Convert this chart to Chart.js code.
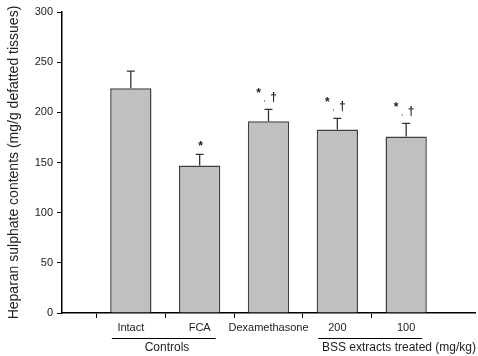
<!DOCTYPE html>
<html>
<head>
<meta charset="utf-8">
<script src="https://cdn.jsdelivr.net/npm/chart.js@4"></script>
<style>
  body { margin: 0; background: #fff; }
  #wrap { width: 478px; height: 356px; }
</style>
</head>
<body>
<div id="wrap"><canvas id="hsChart" width="478" height="356"></canvas></div>
<script>
// data
const labels = ['', 'Intact', 'FCA', 'Dexamethasone', '200', '100', ''];
const values = [null, 224, 147, 191, 183, 176, null];
const errors = [0, 17, 11, 12, 11, 13, 0];
const marks = ['', '', '*', '*,†', '*,†', '*,†', ''];
const yTicks = [0, 50, 100, 150, 200, 250, 300];
const groups = [
    { name: 'Controls', from: 1, to: 2 },
    { name: 'BSS extracts treated (mg/kg)', from: 4, to: 5 }
];

const font = "'Liberation Sans', Arial, sans-serif";

// error bars + significance marks + group captions
const extras = {
    id: 'extras',
    afterDatasetsDraw(chart) {
        const ctx = chart.ctx;
        const x = chart.scales.x, y = chart.scales.y;
        ctx.save();
        ctx.strokeStyle = '#333';
        ctx.fillStyle = '#222';
        ctx.lineWidth = 1.3;
        for (let i = 0; i < values.length; i++) {
            if (values[i] == null) continue;
            let cx = x.getPixelForValue(i);
            let top = y.getPixelForValue(values[i]);
            let end = y.getPixelForValue(values[i] + errors[i]);
            ctx.beginPath();
            ctx.moveTo(cx, top);
            ctx.lineTo(cx, end);
            ctx.moveTo(cx - 4, end);
            ctx.lineTo(cx + 4, end);
            ctx.stroke();

            let m = marks[i];
            if (!m) continue;
            ctx.textAlign = 'center';
            ctx.textBaseline = 'middle';
            if (m === '*') {
                ctx.font = 'bold 12px ' + font;
                ctx.fillText('*', cx + 1, end - 8);
            } else {
                ctx.font = 'bold 12px ' + font;
                ctx.fillText('*', cx - 10, end - 16);
                ctx.font = '8px ' + font;
                ctx.fillText(',', cx - 4, end - 11);
                ctx.font = 'bold 12px ' + font;
                ctx.fillText('†', cx + 5, end - 12);
            }
        }

        ctx.font = '12px ' + font;
        ctx.textAlign = 'center';
        ctx.textBaseline = 'middle';
        ctx.lineWidth = 1;
        ctx.strokeStyle = '#000';
        for (let g of groups) {
            let x1 = x.getPixelForValue(g.from) - 19;
            let x2 = x.getPixelForValue(g.to) + 16;
            ctx.beginPath();
            ctx.moveTo(x1, 338.5);
            ctx.lineTo(x2, 338.5);
            ctx.stroke();
        }
        ctx.fillText(groups[0].name, 167, 348);
        ctx.textAlign = 'right';
        ctx.fillText(groups[1].name, 476, 348);
        ctx.restore();
    }
};

const hsChart = new Chart(document.getElementById('hsChart'), {
    type: 'bar',
    data: {
        labels: labels,
        datasets: [{
            data: values,
            backgroundColor: '#c0c0c0',
            borderColor: '#404040',
            borderWidth: 1.5,
            barPercentage: 0.6,
            categoryPercentage: 1
        }]
    },
    options: {
        responsive: false,
        animation: false,
        layout: { padding: { top: 12, right: 2, left: 0, bottom: 0 } },
        plugins: { legend: { display: false }, tooltip: { enabled: false } },
        scales: {
            x: {
                offset: false,
                grid: {
                    drawOnChartArea: false,
                    tickLength: 5,
                    tickColor: (c) => (c.index === 0 || c.index === 6) ? 'rgba(0,0,0,0)' : '#000'
                },
                border: { color: '#000', width: 1.5 },
                ticks: {
                    autoSkip: false,
                    maxRotation: 0,
                    padding: 3,
                    color: '#222',
                    font: { family: font, size: 11 }
                },
                afterFit: (s) => { s.height = 43; }
            },
            y: {
                min: 0,
                max: 300,
                afterBuildTicks: (s) => { s.ticks = yTicks.map(v => ({ value: v })); },
                grid: { drawOnChartArea: false, tickLength: 5, tickColor: '#000' },
                border: { color: '#000', width: 1.5 },
                ticks: {
                    padding: 4,
                    color: '#222',
                    font: { family: font, size: 11 }
                },
                title: {
                    display: true,
                    text: 'Heparan sulphate contents (mg/g defatted tissues)',
                    color: '#222',
                    font: { family: font, size: 14 },
                    padding: { top: 6, bottom: 0 }
                },
                afterFit: (s) => { s.width = 62; }
            }
        }
    },
    plugins: [extras]
});
</script>
</body>
</html>
